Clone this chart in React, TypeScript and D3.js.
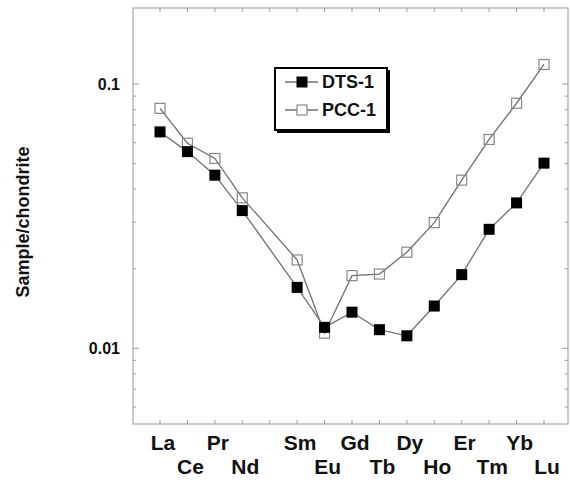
import React from "react";
import * as d3 from "d3";

const elements = ["La","Ce","Pr","Nd","Pm","Sm","Eu","Gd","Tb","Dy","Ho","Er","Tm","Yb","Lu"];
const dts1: (number|null)[] = [0.0659,0.0555,0.0452,0.0332,null,0.0170,0.0120,0.0137,0.01176,0.01115,0.01445,0.0190,0.0282,0.0355,0.0502];
const pcc1: (number|null)[] = [0.0809,0.0597,0.0523,0.0371,null,0.0216,0.01141,0.01884,0.0191,0.0231,0.0299,0.0433,0.0617,0.0846,0.1186];
const yTickLabels = [0.01, 0.1];
const labeledTop = ["La","Pr","Sm","Gd","Dy","Er","Yb"];
const labeledBottom = ["Ce","Nd","Eu","Tb","Ho","Tm","Lu"];

const W = 570, H = 480;
const L = 133, R = 568, T = 8, B = 424;

export default function App() {
  const x = d3.scalePoint<string>().domain(elements).range([160, 544]);
  const y = d3.scaleLog().domain([0.00517, 0.194]).range([B, T]);
  const line = d3.line<[string, number|null]>()
    .defined(d => d[1] != null)
    .x(d => x(d[0])!)
    .y(d => y(d[1] as number));
  const pairs = (arr: (number|null)[]) => elements.map((e, i) => [e, arr[i]] as [string, number|null]).filter(d => d[1] != null);
  const minor: number[] = [];
  [0.001, 0.01, 0.1].forEach(dec => { for (let k = 1; k <= 9; k++) { const v = dec * k; if (v >= 0.00517 && v <= 0.194) minor.push(v); } });
  const font = "'Liberation Sans', Arial, Helvetica, sans-serif";
  const axisCol = "#a8a8a8";
  const lineCol = "#707070";
  return (
    <svg width={W} height={H} style={{ position: "absolute", left: 0, top: 0, background: "#fff" }} fontFamily={font}>
      {/* frame */}
      <rect x={L} y={T} width={R - L} height={B - T} fill="none" stroke={axisCol} strokeWidth={1.2} />
      {/* x ticks */}
      {elements.map(e => (
        <g key={e}>
          <line x1={x(e)} x2={x(e)} y1={B} y2={B - 4} stroke={axisCol} strokeWidth={1.2} />
          <line x1={x(e)} x2={x(e)} y1={T} y2={T + 4} stroke={axisCol} strokeWidth={1.2} />
        </g>
      ))}
      {/* y ticks */}
      {minor.map((v, i) => {
        const major = yTickLabels.some(t => Math.abs(t - v) < 1e-9);
        const len = major ? 6 : 3;
        return (
          <g key={i}>
            <line x1={L} x2={L + len} y1={y(v)} y2={y(v)} stroke={axisCol} strokeWidth={1.2} />
            <line x1={R} x2={R - len} y1={y(v)} y2={y(v)} stroke={axisCol} strokeWidth={1.2} />
          </g>
        );
      })}
      {yTickLabels.map(v => (
        <text key={v} x={120} y={y(v)} dy="0.36em" textAnchor="end" fontSize={16} fontWeight="bold" fill="#111">{String(v)}</text>
      ))}
      <text transform={`translate(29,222) rotate(-90)`} textAnchor="middle" fontSize={18} fontWeight="bold" fill="#111">Sample/chondrite</text>
      {labeledTop.map(e => (
        <text key={e} x={x(e)! + 3} y={450} textAnchor="middle" fontSize={21} fontWeight="bold" fill="#111">{e}</text>
      ))}
      {labeledBottom.map(e => (
        <text key={e} x={x(e)! + 3} y={474} textAnchor="middle" fontSize={21} fontWeight="bold" fill="#111">{e}</text>
      ))}
      {/* lines */}
      <path d={line(pairs(pcc1))!} fill="none" stroke={lineCol} strokeWidth={1.3} />
      <path d={line(pairs(dts1))!} fill="none" stroke={lineCol} strokeWidth={1.3} />
      {pairs(pcc1).map(d => (
        <rect key={"p" + d[0]} x={x(d[0])! - 5} y={y(d[1] as number) - 5} width={10} height={10} fill="none" stroke="#888" strokeWidth={1.2} />
      ))}
      {pairs(dts1).map(d => (
        <rect key={"d" + d[0]} x={x(d[0])! - 5.5} y={y(d[1] as number) - 5.5} width={11} height={11} fill="#000" />
      ))}
      {/* legend */}
      <rect x={277} y={70} width={113} height={63} fill="#000" />
      <rect x={275} y={68} width={112} height={62} fill="#fff" stroke="#000" strokeWidth={2} />
      <line x1={285} x2={318} y1={82} y2={82} stroke={lineCol} strokeWidth={1.3} />
      <rect x={296.5} y={76.5} width={11} height={11} fill="#000" />
      <text x={322} y={82} dy="0.36em" fontSize={18} fontWeight="bold" fill="#111">DTS-1</text>
      <line x1={285} x2={318} y1={110} y2={110} stroke={lineCol} strokeWidth={1.3} />
      <rect x={297} y={105} width={10} height={10} fill="#fff" stroke="#888" strokeWidth={1.2} />
      <text x={322} y={110} dy="0.36em" fontSize={18} fontWeight="bold" fill="#111">PCC-1</text>
    </svg>
  );
}
